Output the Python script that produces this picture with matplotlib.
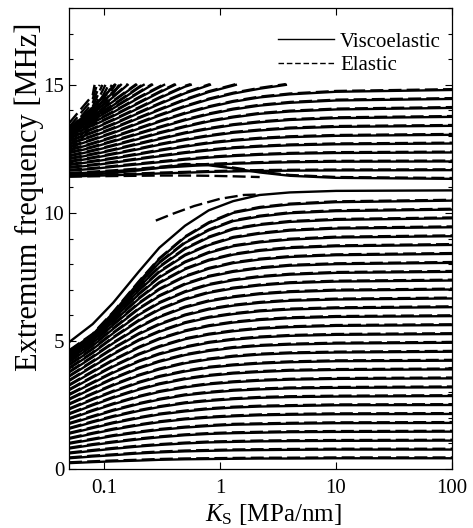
import numpy as np
import matplotlib
matplotlib.use("Agg")
import matplotlib.pyplot as plt
from matplotlib.ticker import MultipleLocator, NullLocator, FixedLocator
from matplotlib.transforms import offset_copy

plt.rcParams['font.family'] = ['Liberation Serif', 'DejaVu Serif']
plt.rcParams['mathtext.fontset'] = 'custom'
plt.rcParams['mathtext.rm'] = 'Liberation Serif'
plt.rcParams['mathtext.it'] = 'Liberation Serif:italic'

# Ks sample points [MPa/nm]
ks = [0.05, 0.08, 0.12, 0.2, 0.3, 0.5, 0.8, 1.3, 2.2, 4, 10, 100]

# lower branch, one list per Ks column (modes from bottom to top)
low_005 = [0.23,0.42,0.61,0.80,0.99,1.18,1.38,1.57,1.76,1.95,2.14,2.33,2.52,2.71,2.89,3.08,3.26,3.44,3.61,3.77,3.92,4.05,4.17,4.27,4.36,4.43,4.49,4.53,4.57,4.60,4.95]
low_008 = [0.27,0.49,0.71,0.94,1.15,1.38,1.60,1.83,2.04,2.27,2.49,2.71,2.93,3.15,3.36,3.58,3.79,4.00,4.19,4.37,4.53,4.68,4.81,4.92,5.01,5.08,5.14,5.19,5.22,5.25,5.66]
low_012 = [0.30,0.54,0.79,1.04,1.29,1.54,1.79,2.04,2.28,2.53,2.78,3.02,3.27,3.52,3.76,4.00,4.24,4.48,4.70,4.91,5.12,5.30,5.47,5.62,5.74,5.85,5.93,6.00,6.06,6.10,6.49]
low_020 = [0.33,0.61,0.88,1.16,1.43,1.71,1.99,2.27,2.54,2.82,3.10,3.37,3.65,3.93,4.20,4.47,4.74,5.02,5.27,5.53,5.79,6.02,6.25,6.46,6.65,6.82,6.97,7.10,7.21,7.30,7.71]
low_030 = [0.36,0.65,0.94,1.24,1.53,1.83,2.13,2.42,2.71,3.01,3.31,3.60,3.89,4.19,4.48,4.77,5.07,5.36,5.64,5.93,6.22,6.48,6.75,7.01,7.26,7.48,7.69,7.88,8.05,8.20,8.64]
low_050 = [0.38,0.69,1.00,1.32,1.62,1.94,2.25,2.57,2.88,3.19,3.51,3.81,4.13,4.45,4.75,5.07,5.38,5.70,6.00,6.31,6.62,6.91,7.21,7.51,7.80,8.07,8.34,8.59,8.83,9.05,9.50]
low_080 = [0.39,0.71,1.04,1.37,1.68,2.01,2.34,2.66,2.98,3.31,3.64,3.96,4.28,4.61,4.93,5.25,5.58,5.91,6.23,6.55,6.88,7.19,7.51,7.82,8.14,8.44,8.74,9.04,9.32,9.60,10.10]
low_130 = [0.40,0.73,1.06,1.40,1.73,2.06,2.40,2.73,3.06,3.39,3.73,4.05,4.39,4.73,5.05,5.38,5.72,6.05,6.38,6.71,7.05,7.37,7.70,8.04,8.37,8.70,9.03,9.36,9.68,10.00,10.46]
low_220 = [0.41,0.74,1.08,1.42,1.75,2.10,2.44,2.78,3.11,3.45,3.79,4.12,4.47,4.81,5.14,5.48,5.82,6.16,6.49,6.83,7.17,7.50,7.84,8.18,8.52,8.85,9.19,9.53,9.86,10.20,10.70]
low_400 = [0.41,0.75,1.09,1.44,1.77,2.12,2.46,2.81,3.15,3.49,3.84,4.17,4.52,4.86,5.20,5.54,5.89,6.23,6.57,6.91,7.26,7.59,7.94,8.28,8.63,8.96,9.31,9.65,9.99,10.33,10.80]
low_1000 = [0.42,0.76,1.10,1.45,1.79,2.14,2.49,2.83,3.17,3.52,3.87,4.21,4.55,4.90,5.24,5.59,5.94,6.28,6.62,6.97,7.32,7.66,8.00,8.35,8.70,9.04,9.39,9.73,10.07,10.42,10.86]
low_100 = [0.42,0.76,1.11,1.46,1.80,2.15,2.50,2.85,3.19,3.54,3.89,4.23,4.58,4.93,5.27,5.62,5.97,6.32,6.66,7.01,7.36,7.70,8.05,8.40,8.75,9.09,9.44,9.79,10.13,10.48,10.88]

# upper branch, one list per curve (values at ks, curve stops at 15 MHz)
up_1 = [11.45,11.50,11.56,11.66,11.76,11.88,11.86,11.74,11.58,11.45,11.37,11.33]
up_2 = [11.42,11.45,11.47,11.51,11.54,11.57,11.60,11.62,11.64,11.65,11.66,11.67]
up_3 = [11.53,11.58,11.63,11.70,11.76,11.82,11.88,11.92,11.95,11.98,12.00,12.01]
up_4 = [11.65,11.72,11.80,11.90,11.98,12.08,12.16,12.22,12.27,12.31,12.34,12.36]
up_5 = [11.76,11.86,11.96,12.10,12.21,12.34,12.44,12.53,12.59,12.64,12.68,12.71]
up_6 = [11.87,12.00,12.12,12.29,12.43,12.59,12.72,12.82,12.90,12.96,13.01,13.05]
up_7 = [11.99,12.14,12.29,12.49,12.66,12.85,13.00,13.13,13.22,13.30,13.36,13.40]
up_8 = [12.10,12.28,12.45,12.69,12.88,13.11,13.28,13.43,13.54,13.63,13.70,13.75]
up_9 = [12.21,12.42,12.62,12.89,13.11,13.36,13.57,13.73,13.87,13.96,14.04,14.10]
up_10 = [12.33,12.56,12.79,13.09,13.33,13.62,13.85,14.04,14.19,14.30,14.39,14.45]
up_11 = [12.44,12.70,12.95,13.29,13.56,13.88,14.13,14.34,14.51,14.63,14.73,14.80]
up_12 = [12.56,12.85,13.12,13.50,13.80,14.15,14.43,14.66,14.85]
up_13 = [12.68,12.99,13.29,13.70,14.02,14.41,14.72,14.97]
up_14 = [12.79,13.13,13.45,13.90,14.25,14.67]
up_15 = [12.91,13.27,13.62,14.09,14.48,14.93]
up_16 = [13.02,13.41,13.78,14.29,14.70]
up_17 = [13.10,13.52,13.93,14.49]
up_18 = [13.15,13.62,14.08,14.69]
up_19 = [13.18,13.70,14.20,14.89]
up_20 = [13.20,13.78,14.35]
up_21 = [13.22,13.88,14.52]
up_22 = [13.24,13.98,14.70]
up_23 = [13.26,14.10]
upper_visco = [up_1, up_2, up_3, up_4, up_5, up_6, up_7, up_8, up_9, up_10, up_11, up_12,
               up_13, up_14, up_15, up_16, up_17, up_18, up_19, up_20, up_21, up_22, up_23]
# Ks where the truncated curves hit 15 MHz
up_end = [None]*11 + [3.7, 1.37, 0.82, 0.56, 0.41, 0.33, 0.26, 0.22, 0.19, 0.16, 0.14, 0.125]

# elastic curves that separate from the viscoelastic ones
el_top_ks = [0.28, 0.4, 0.6, 1.0, 1.6, 2.2]
el_top_f = [9.70, 9.98, 10.27, 10.55, 10.70, 10.72]
el_gap_ks = [0.05, 0.08, 0.12, 0.2, 0.3, 0.5, 0.8, 1.3, 2.2]
el_gap_f = [11.42, 11.43, 11.44, 11.45, 11.46, 11.46, 11.45, 11.43, 11.40]
el_left_f005 = [12.30, 12.45, 12.60, 12.75, 12.90, 13.05, 13.20, 13.35, 13.50]
el_left_f008 = [13.40, 13.55, 13.70, 13.85, 14.00, 14.15, 14.30, 14.45, 14.60]
el_left_end = [0.135, 0.125, 0.117, 0.110, 0.103, 0.097, 0.092, 0.087, 0.083]

lw = 1.7
dash = (0, (5.5, 2.2))

fig = plt.figure(figsize=(4.73, 5.28), dpi=100)
ax = fig.add_axes([0.1459, 0.1117, 0.8097, 0.8731])
# elastic curves drawn a hair above the viscoelastic ones they overlap
shifted = offset_copy(ax.transData, fig=fig, x=0, y=0.8, units='dots')

lower = list(zip(low_005, low_008, low_012, low_020, low_030, low_050, low_080,
                 low_130, low_220, low_400, low_1000, low_100))
for i, f in enumerate(lower):
    ax.plot(ks, f, color='k', lw=lw)
    if i < len(lower) - 1:
        ax.plot(ks, f, color='k', lw=lw, ls=dash, transform=shifted)

for f, kend in zip(upper_visco, up_end):
    x = ks[:len(f)]
    y = list(f)
    if kend is not None:
        x = x + [kend]
        y = y + [15.0]
    ax.plot(x, y, color='k', lw=lw)
    ax.plot(x, y, color='k', lw=lw, ls=dash, transform=shifted)

ax.plot(el_top_ks, el_top_f, color='k', lw=lw, ls=dash)
ax.plot(el_gap_ks, el_gap_f, color='k', lw=lw, ls=dash)
for a, b, kend in zip(el_left_f005, el_left_f008, el_left_end):
    ax.plot([0.05, 0.08, kend], [a, b, 15.0], color='k', lw=lw, ls=dash)

# legend
ax.plot([], [], color='k', lw=1.0, label='Viscoelastic')
ax.plot([], [], color='k', lw=1.0, ls=(0, (4, 2)), label='Elastic')
ax.legend(loc='upper right', bbox_to_anchor=(1.034, 1.0), frameon=False, fontsize=15,
          handlelength=2.7, handletextpad=0.3, labelspacing=0.2, borderaxespad=0.75)

ax.set_xscale('log')
ax.set_xlim(0.05, 100)
ax.set_ylim(0, 18)
ax.xaxis.set_major_locator(FixedLocator([0.1, 1, 10, 100]))
ax.xaxis.set_minor_locator(NullLocator())
ax.set_xticklabels(['0.1', '1', '10', '100'])
ax.yaxis.set_major_locator(FixedLocator([0, 5, 10, 15]))
ax.yaxis.set_minor_locator(MultipleLocator(1))
ax.tick_params(which='both', direction='in', top=True, right=True, labelsize=15, width=0.8)
ax.tick_params(which='major', length=5)
ax.tick_params(which='minor', length=2.8)
ax.tick_params(axis='x', pad=7)
for s in ax.spines.values():
    s.set_linewidth(0.9)

ax.set_xlabel(r'$K_\mathrm{S}$ [MPa/nm]', fontsize=18)
ax.xaxis.set_label_coords(0.533, -0.072)
ax.set_ylabel('Extremum frequency [MHz]', fontsize=22)
ax.yaxis.set_label_coords(-0.064, 0.59)

fig.savefig('out.png', dpi=100)
